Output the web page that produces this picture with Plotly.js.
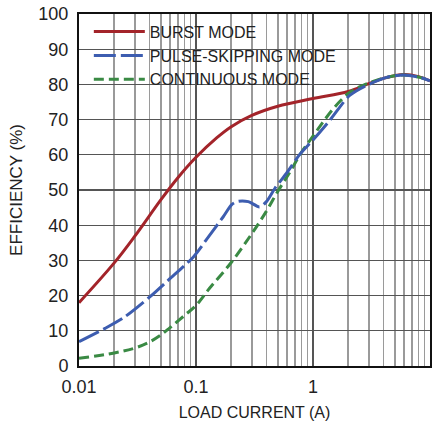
<!DOCTYPE html>
<html>
<head>
<meta charset="utf-8">
<script src="https://cdn.plot.ly/plotly-3.0.1.min.js"></script>
<style>
  html, body { margin: 0; padding: 0; background: #fff; }
  #chart { width: 438px; height: 421px; }
</style>
</head>
<body>
<div id="chart"></div>
<script>
// ---- data ----
const seriesNames = ["BURST MODE", "PULSE-SKIPPING MODE", "CONTINUOUS MODE"];

const burstX = [0.01, 0.02, 0.03, 0.05, 0.07, 0.1, 0.15, 0.2, 0.3, 0.5, 1.0, 2.0, 3.0, 4.0, 6.0, 8.0, 10];
const burstY = [18.0, 29.3, 36.9, 47.2, 53.5, 59.3, 64.8, 68.0, 71.2, 73.8, 76.0, 78.0, 80.2, 81.7, 82.8, 82.2, 81.0];

const pulseX = [0.01, 0.0167, 0.0247, 0.0405, 0.058, 0.095, 0.131, 0.171, 0.203, 0.23, 0.28, 0.35, 0.40, 0.473, 0.592, 0.774, 1.0, 1.4, 2.0, 2.36, 3.04, 4.26, 5.9, 8.2, 10];
const pulseY = [6.9, 10.7, 14.0, 19.7, 24.4, 31.0, 37.2, 42.4, 45.9, 46.8, 46.7, 45.2, 46.7, 50.5, 54.7, 60.2, 64.2, 69.9, 76.5, 78.2, 80.1, 82.0, 82.7, 82.0, 81.0];

const contX = [0.01, 0.02, 0.03, 0.04, 0.05, 0.06, 0.08, 0.1, 0.13, 0.2, 0.3, 0.4, 0.5, 0.63, 0.8, 1.0, 1.2, 1.5, 2.0, 2.5, 3.0, 4.26, 5.9, 8.2, 10];
const contY = [2.2, 3.7, 5.1, 6.8, 8.8, 10.9, 14.4, 17.2, 22.0, 29.4, 37.6, 44.0, 49.6, 54.9, 60.8, 65.3, 69.0, 73.2, 77.4, 79.3, 80.4, 82.0, 82.7, 82.0, 81.0];

const xTickVals = [0.01, 0.1, 1, 10];
const xTickText = ["0.01", "0.1", "1", "10"];
const xMinorVals = [0.02,0.03,0.04,0.05,0.06,0.07,0.08,0.09, 0.2,0.3,0.4,0.5,0.6,0.7,0.8,0.9, 2,3,4,5,6,7,8,9];
const yTickVals = [0,10,20,30,40,50,60,70,80,90,100];

const FONT = "'Liberation Sans Narrow', 'Arial Narrow', 'Liberation Sans', Arial, sans-serif";

const traces = [
  { x: burstX, y: burstY, name: seriesNames[0], type: "scatter", mode: "lines", legendrank: 1,
    line: { color: "#a3242a", width: 3, shape: "spline", smoothing: 1 } },
  { x: contX, y: contY, name: seriesNames[2], type: "scatter", mode: "lines", legendrank: 3,
    line: { color: "#3a8a44", width: 3, dash: "10px,5px", shape: "spline", smoothing: 1 } },
  { x: pulseX, y: pulseY, name: seriesNames[1], type: "scatter", mode: "lines", legendrank: 2,
    line: { color: "#3d5db0", width: 3, dash: "22px,5px", shape: "spline", smoothing: 0.8 } }
];

const layout = {
  width: 438, height: 421,
  margin: { l: 79, r: 8, t: 14, b: 55 },
  paper_bgcolor: "#fff", plot_bgcolor: "#fff",
  font: { family: FONT, size: 18, color: "#222" },
  showlegend: true,
  legend: {
    x: 0.028, y: 0.998, xanchor: "left", yanchor: "top",
    bgcolor: "rgba(0,0,0,0)", borderwidth: 0,
    font: { family: FONT, size: 16, color: "#222" },
    itemwidth: 51, tracegroupgap: 0
  },
  xaxis: {
    type: "log", range: [-2, 1],
    tickmode: "array", tickvals: xTickVals, ticktext: xTickText,
    ticks: "", ticklabelstandoff: 3,
    showgrid: true, gridcolor: "#555", gridwidth: 1.2,
    minor: { tickmode: "array", tickvals: xMinorVals, showgrid: true, gridcolor: "#9a9a9a", gridwidth: 1.6, ticks: "" },
    showline: true, mirror: true, linecolor: "#111", linewidth: 2,
    zeroline: false,
    title: { text: "LOAD CURRENT (A)", font: { family: FONT, size: 16, color: "#222" }, standoff: 11 }
  },
  yaxis: {
    range: [0, 100],
    tickmode: "array", tickvals: yTickVals,
    ticks: "", ticklabelstandoff: 5,
    showgrid: true, gridcolor: "#555", gridwidth: 1.2,
    showline: true, mirror: true, linecolor: "#111", linewidth: 2,
    zeroline: false,
    title: { text: "EFFICIENCY (%)", font: { family: FONT, size: 17, color: "#222" }, standoff: 11 }
  },
  shapes: [
    { type: "rect", xref: "paper", yref: "paper", x0: 0, x1: 0.763, y0: 0.784, y1: 1,
      fillcolor: "#fff", line: { width: 0 }, layer: "between" }
  ]
};

Plotly.newPlot("chart", traces, layout, { staticPlot: true, displayModeBar: false });
</script>
</body>
</html>
